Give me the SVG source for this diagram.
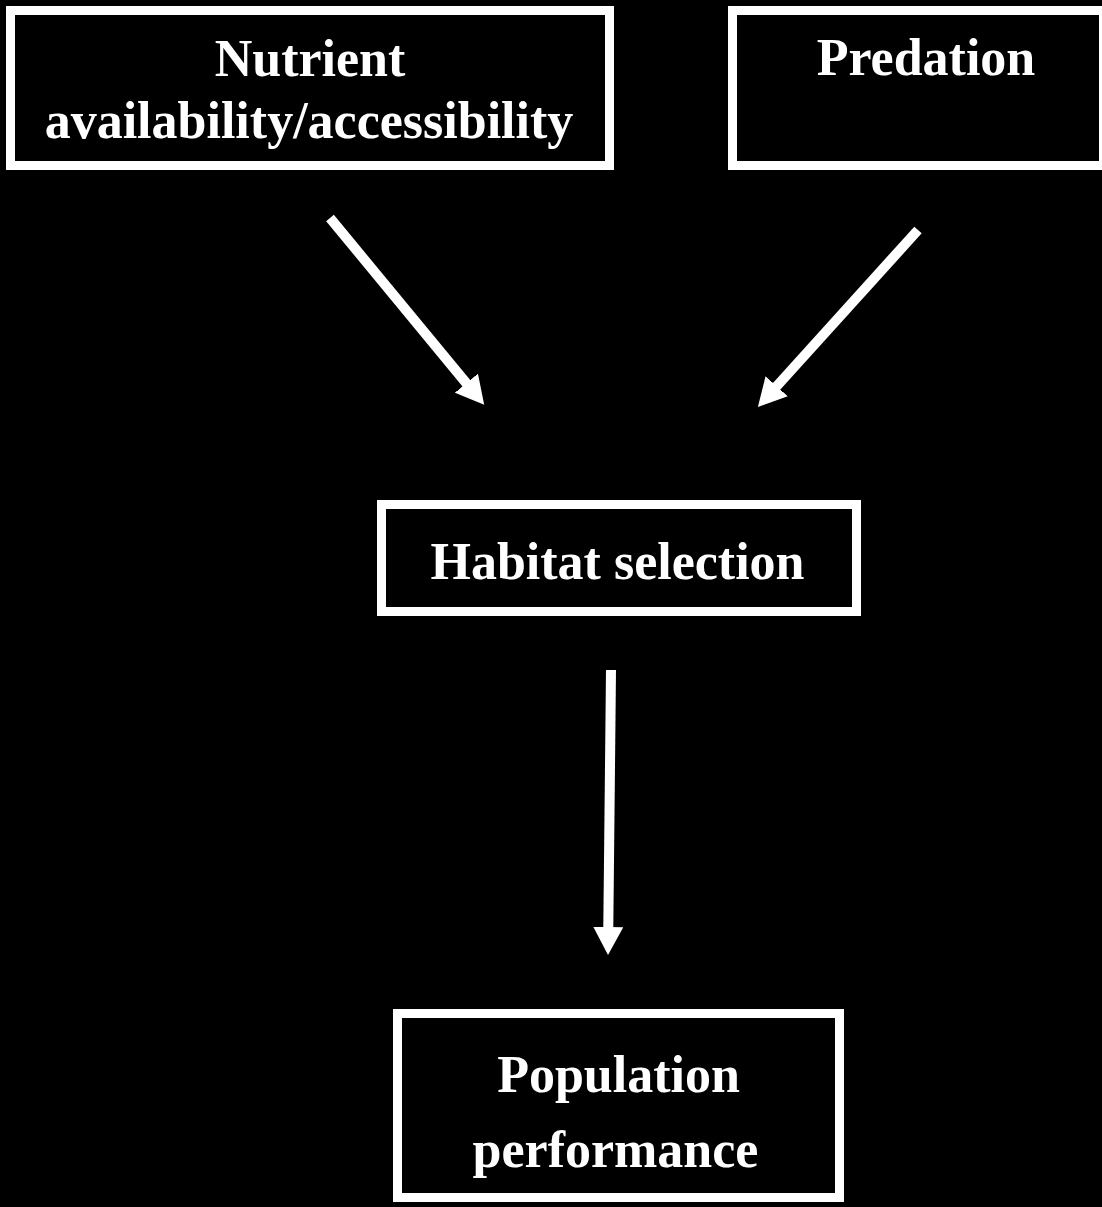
<svg xmlns="http://www.w3.org/2000/svg" width="1102" height="1207" viewBox="0 0 1102 1207">
  <style>
    .box { fill: #000000; stroke: #ffffff; stroke-width: 9; }
    .label { fill: #ffffff; font-family: "Liberation Serif", "Times New Roman", serif; font-weight: bold; font-size: 52px; text-anchor: middle; }
    .conn { stroke: #ffffff; stroke-width: 10; fill: none; marker-end: url(#arrow); }
  </style>
  <defs>
    <marker id="arrow" markerUnits="userSpaceOnUse" viewBox="0 0 28 30" markerWidth="28" markerHeight="30" refX="1" refY="15" orient="auto">
      <path d="M0,0 L28,15 L0,30 z" fill="#ffffff"/>
    </marker>
  </defs>
  <rect x="0" y="0" width="1102" height="1207" fill="#000000"/>

  <g id="node-nutrient">
    <rect class="box" x="10.5" y="10.5" width="599" height="155"/>
    <text class="label" x="310" y="76">Nutrient</text>
    <text class="label" x="309" y="138">availability/accessibility</text>
  </g>

  <g id="node-predation">
    <rect class="box" x="732.5" y="10.5" width="371" height="155"/>
    <text class="label" x="926" y="75">Predation</text>
  </g>

  <g id="node-habitat">
    <rect class="box" x="381.5" y="504.5" width="475" height="107"/>
    <text class="label" x="617.5" y="579">Habitat selection</text>
  </g>

  <g id="node-population">
    <rect class="box" x="397.5" y="1013.5" width="442" height="184"/>
    <text class="label" x="618.5" y="1092">Population</text>
    <text class="label" x="615.5" y="1167">performance</text>
  </g>

  <g id="connectors">
    <line class="conn" x1="330" y1="218" x2="467" y2="384"/>
    <line class="conn" x1="918" y1="230" x2="776" y2="387"/>
    <line class="conn" x1="611" y1="670" x2="608.3" y2="928"/>
  </g>
</svg>
